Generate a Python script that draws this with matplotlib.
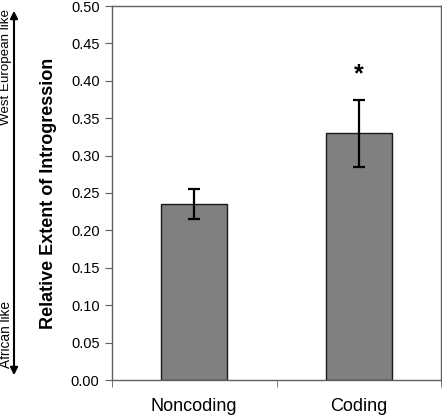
import matplotlib
matplotlib.use("Agg")
import matplotlib.pyplot as plt

plt.rcParams["font.family"] = ["Liberation Sans", "DejaVu Sans"]

# --- Data ---
categories = ["Noncoding", "Coding"]
values = [0.235, 0.330]
err_low = [0.020, 0.045]
err_high = [0.020, 0.045]
significant = [False, True]
y_ticks = [0.00, 0.05, 0.10, 0.15, 0.20, 0.25, 0.30, 0.35, 0.40, 0.45, 0.50]

W, H = 442, 418
fig = plt.figure(figsize=(W / 100, H / 100), dpi=100)
ax = fig.add_axes([112 / W, 1 - 380 / H, 329 / W, 374 / H])

x = list(range(len(categories)))
ax.bar(x, values, width=0.4, color="#808080", edgecolor="#1a1a1a", linewidth=1.0, zorder=2)
ax.errorbar(x, values, yerr=[err_low, err_high], fmt="none", ecolor="black",
            elinewidth=1.6, capsize=4, capthick=1.6, zorder=3)

for xi, v, e, s in zip(x, values, err_high, significant):
    if s:
        ax.text(xi, v + e + 0.018, "*", ha="center", va="bottom",
                fontsize=18, fontweight="bold")

ax.set_xlim(-0.5, len(categories) - 0.5)
ax.set_ylim(0, 0.5)
ax.set_yticks(y_ticks)
ax.set_yticklabels([f"{t:.2f}" for t in y_ticks], fontsize=10.5)
ax.set_xticks(x)
ax.set_xticklabels(categories, fontsize=13)
ax.set_xticks([i - 0.5 for i in range(len(categories) + 1)], minor=True)
ax.tick_params(axis="x", which="major", length=0, pad=13)
ax.tick_params(axis="x", which="minor", length=5, color="#606060", direction="out")
ax.tick_params(axis="y", length=5, color="#606060", direction="out", pad=4)

for sp in ax.spines.values():
    sp.set_color("#606060")
    sp.set_linewidth(1.0)

ax.set_ylabel("Relative Extent of Introgression", fontsize=13, fontweight="bold", labelpad=10)

# Double arrow with direction labels on the left side
fig.patches.append(matplotlib.patches.FancyArrowPatch(
    (14 / W, 1 - 378 / H), (14 / W, 1 - 8 / H), transform=fig.transFigure,
    arrowstyle="<|-|>", mutation_scale=11, color="black", linewidth=1.5))
fig.text(6 / W, 1 - 67 / H, "West European like", rotation=90, ha="center", va="center", fontsize=9.6)
fig.text(6 / W, 1 - 334 / H, "African like", rotation=90, ha="center", va="center", fontsize=9.8)

fig.savefig("out.png", dpi=100)
